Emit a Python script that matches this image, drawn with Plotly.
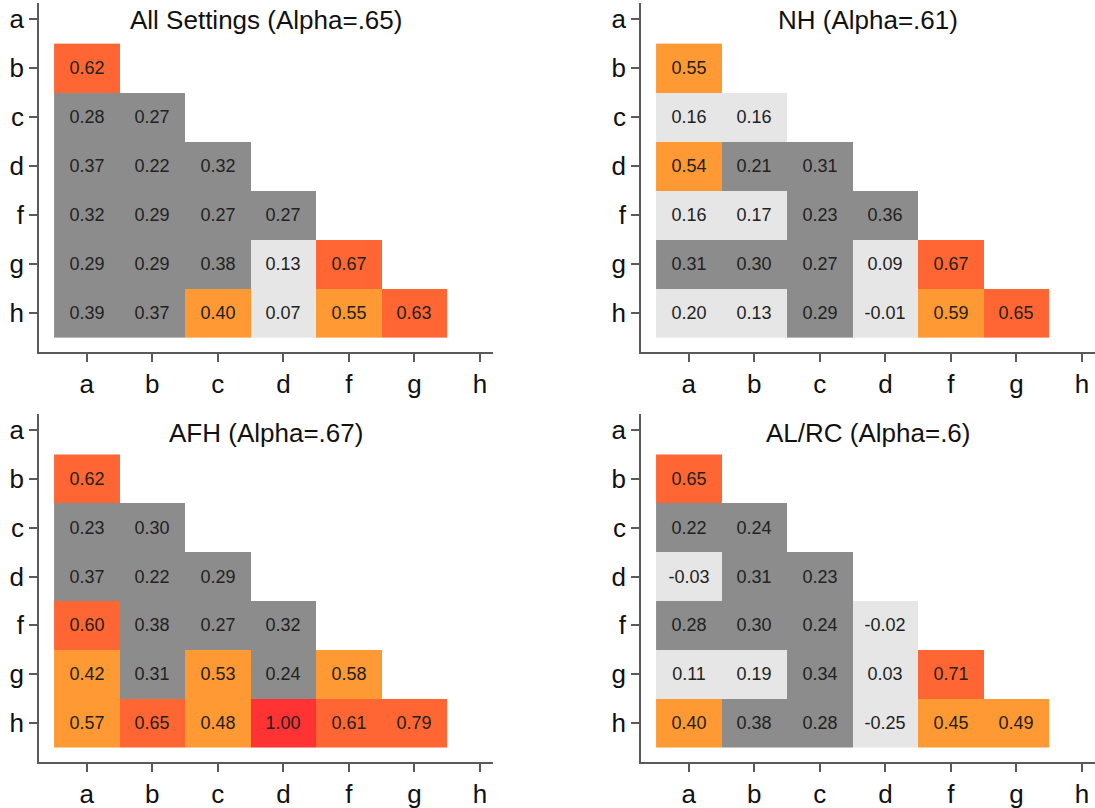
import plotly.graph_objects as go

labels = ["a", "b", "c", "d", "f", "g", "h"]

titles = ["All Settings (Alpha=.65)", "NH (Alpha=.61)", "AFH (Alpha=.67)", "AL/RC (Alpha=.6)"]

# rows b..h, columns a..(row-1)
all_settings = [
    [0.62],
    [0.28, 0.27],
    [0.37, 0.22, 0.32],
    [0.32, 0.29, 0.27, 0.27],
    [0.29, 0.29, 0.38, 0.13, 0.67],
    [0.39, 0.37, 0.40, 0.07, 0.55, 0.63],
]
nh = [
    [0.55],
    [0.16, 0.16],
    [0.54, 0.21, 0.31],
    [0.16, 0.17, 0.23, 0.36],
    [0.31, 0.30, 0.27, 0.09, 0.67],
    [0.20, 0.13, 0.29, -0.01, 0.59, 0.65],
]
afh = [
    [0.62],
    [0.23, 0.30],
    [0.37, 0.22, 0.29],
    [0.60, 0.38, 0.27, 0.32],
    [0.42, 0.31, 0.53, 0.24, 0.58],
    [0.57, 0.65, 0.48, 1.00, 0.61, 0.79],
]
alrc = [
    [0.65],
    [0.22, 0.24],
    [-0.03, 0.31, 0.23],
    [0.28, 0.30, 0.24, -0.02],
    [0.11, 0.19, 0.34, 0.03, 0.71],
    [0.40, 0.38, 0.28, -0.25, 0.45, 0.49],
]
panels = [all_settings, nh, afh, alrc]

bin_colors = ["#e6e6e6", "#8c8c8c", "#ff9933", "#ff6633", "#ff3333"]


def bin_of(v):
    if v <= 0.20:
        return 0
    if v < 0.40:
        return 1
    if v < 0.60:
        return 2
    if v < 0.80:
        return 3
    return 4


colorscale = []
n = len(bin_colors)
for i, c in enumerate(bin_colors):
    colorscale.append([i / n, c])
    colorscale.append([(i + 1) / n, c])

W, H = 1095, 808
xdoms = [[39 / W, 493 / W], [641 / W, 1.0]]
ydoms = [[1 - 352 / H, 1 - 3 / H], [1 - 762 / H, 1 - 414 / H]]
title_y_px = [20, 433]

fig = go.Figure()
font_family = "Liberation Sans, Arial, sans-serif"
axis_color = "#5a5a5a"

for p, data in enumerate(panels):
    row, col = divmod(p, 2)
    idx = p + 1
    xs = list(range(6))
    ys = list(range(1, 7))
    z = [[None] * 6 for _ in range(6)]
    txt = [[""] * 6 for _ in range(6)]
    for r, vals in enumerate(data):
        for c, v in enumerate(vals):
            z[r][c] = bin_of(v)
            txt[r][c] = f"{v:.2f}"
    xa = "x" if idx == 1 else f"x{idx}"
    ya = "y" if idx == 1 else f"y{idx}"
    fig.add_trace(go.Heatmap(
        x=xs, y=ys, z=z, text=txt, texttemplate="%{text}",
        textfont=dict(size=18, color="#222222", family=font_family),
        colorscale=colorscale, zmin=-0.5, zmax=4.5, showscale=False,
        hoverinfo="skip", xaxis=xa, yaxis=ya,
    ))
    axcommon = dict(
        showgrid=False, zeroline=False, showline=True, linecolor=axis_color, linewidth=1.5,
        ticks="outside", ticklen=8, tickwidth=1.5, tickcolor=axis_color,
        tickvals=list(range(7)), ticktext=labels,
        tickfont=dict(size=26, color="#111111", family=font_family),
        automargin=False, fixedrange=True,
    )
    fig.layout[f"xaxis{'' if idx == 1 else idx}"] = dict(
        axcommon, domain=xdoms[col], range=[-0.73, 6.2], anchor=ya,
    )
    fig.layout[f"yaxis{'' if idx == 1 else idx}"] = dict(
        axcommon, domain=ydoms[row], range=[6.8, -0.33], anchor=xa,
    )
    fig.add_annotation(
        text=titles[p], xref="paper", yref="paper",
        x=(xdoms[col][0] + xdoms[col][1]) / 2, y=1 - title_y_px[row] / H,
        xanchor="center", yanchor="middle", showarrow=False,
        font=dict(size=26, color="#111111", family=font_family),
    )

fig.update_layout(
    width=W, height=H, margin=dict(l=0, r=0, t=0, b=0),
    paper_bgcolor="white", plot_bgcolor="white", showlegend=False,
)

fig.write_html(
    "out.html",
    config={"displayModeBar": False},
    post_script="document.body.style.margin='0';document.body.style.overflow='hidden';",
)
